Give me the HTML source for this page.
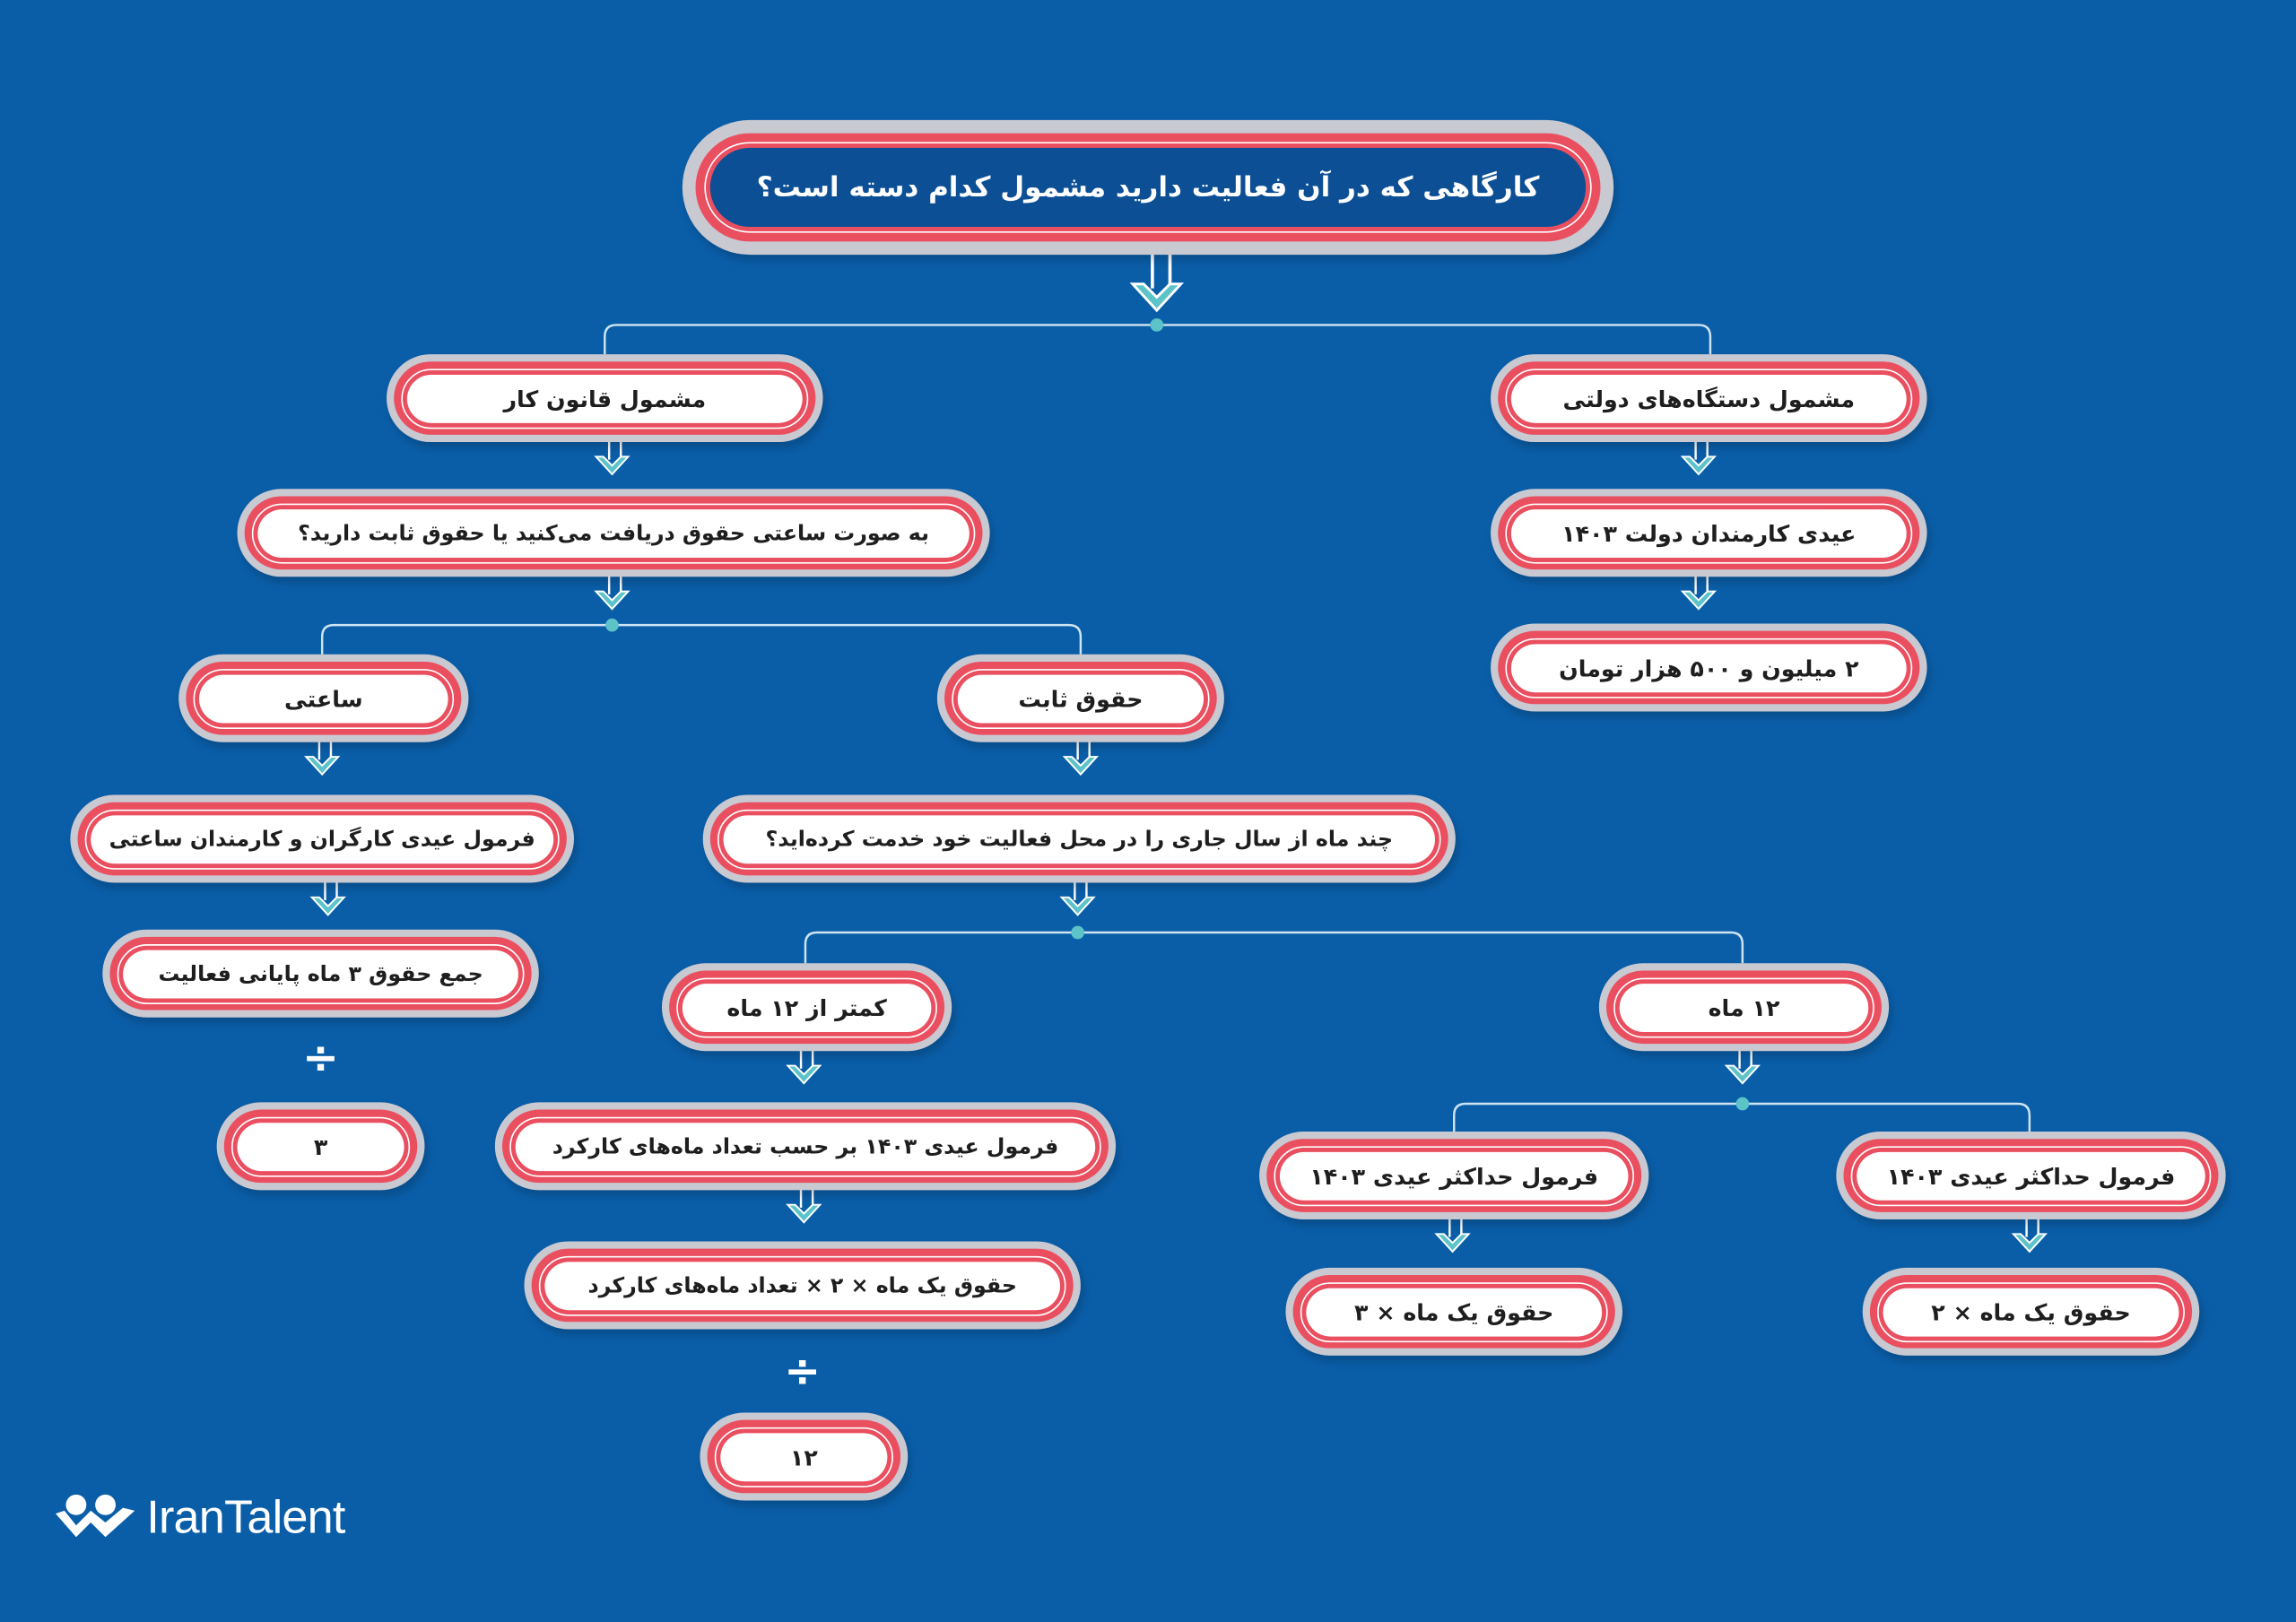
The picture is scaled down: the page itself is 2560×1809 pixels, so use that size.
<!DOCTYPE html>
<html><head><meta charset="utf-8">
<style>
html,body{margin:0;padding:0;background:#0a5ea8;}
body{width:2560px;height:1809px;overflow:hidden;position:relative;}
#w{position:absolute;left:0;top:0;width:1568px;height:1108px;transform:scale(1.63265);transform-origin:0 0;background:#0a5ea8;}
.n{position:absolute;box-sizing:border-box;border-radius:999px;background:#c9c9d1;padding:5px;box-shadow:2px 4px 6px rgba(0,0,0,0.18);}
.r{width:100%;height:100%;box-sizing:border-box;border-radius:999px;background:#ea4f60;padding:5px 5px 4px 5px;}
.l{width:100%;height:100%;box-sizing:border-box;border-radius:999px;border:1.5px solid #fff;padding:3px;}
.c{width:100%;height:100%;box-sizing:border-box;border-radius:999px;background:#fff;display:flex;align-items:center;justify-content:center;font-family:"DejaVu Sans","Noto Sans CJK SC",sans-serif;font-weight:bold;font-size:15.5px;color:#1e1e1e;direction:rtl;white-space:nowrap;}
.s .c{font-size:14.5px;letter-spacing:-0.4px;}
.top .c{background:#0c4f95;color:#fff;font-size:19px;}
svg{position:absolute;left:0;top:0;}
.dv{position:absolute;color:#fff;font-family:"DejaVu Sans",sans-serif;font-size:30px;font-weight:bold;transform:translate(-50%,-50%);}
.logo{position:absolute;left:100px;top:1018px;color:#fff;font-family:"Liberation Sans",sans-serif;font-size:32px;letter-spacing:-0.5px;}
</style></head><body><div id="w">
<svg width="1568" height="1108" viewBox="0 0 1568 1108">
<g fill="none" stroke="#cfe4f2" stroke-width="1.5">
<path d="M413 242 V230 Q413 222 421 222 H1160 Q1168 222 1168 230 V242"/>
<path d="M220 447 V435 Q220 427 228 427 H730 Q738 427 738 435 V447"/>
<path d="M550 658 V645 Q550 637 558 637 H1182 Q1190 637 1190 645 V658"/>
<path d="M993 773 V762 Q993 754 1001 754 H1378 Q1386 754 1386 762 V773"/>
</g>
<g fill="#5cc3c9"><circle cx="790" cy="222" r="4.5"/><circle cx="418" cy="427" r="4.5"/><circle cx="736" cy="637" r="4.5"/><circle cx="1190" cy="754" r="4.5"/></g>
<defs>
<g id="a">
<path d="M-2 -14 H6 V6" fill="none" stroke="#fff" stroke-width="1.5"/>
<path d="M-2 -14 V6" fill="none" stroke="#fff" stroke-width="1.5"/>
<path d="M-11 4 L0 16 L11 4 L6 4 L0 10 L-6 4 Z" fill="#5cc3c9" stroke="#fff" stroke-width="1.2"/>
</g>
</defs>
<g transform="translate(790,188) scale(1.5)"><use href="#a"/></g>
<use href="#a" x="1160" y="308"/><use href="#a" x="1160" y="400"/>
<use href="#a" x="418" y="308"/><use href="#a" x="418" y="400"/>
<use href="#a" x="220" y="513"/><use href="#a" x="738" y="513"/>
<use href="#a" x="224" y="609"/><use href="#a" x="736" y="609"/>
<use href="#a" x="549" y="724"/><use href="#a" x="1190" y="724"/>
<use href="#a" x="549" y="819"/><use href="#a" x="992" y="839"/><use href="#a" x="1386" y="839"/>
<g fill="#fff">
<circle cx="52" cy="1028" r="7"/><circle cx="72" cy="1028" r="7"/>
<path d="M38 1034 L52 1050 L62 1040 L72 1050 L92 1032 L84 1030 L72 1040 L62 1032 L52 1042 L44 1032 Z"/>
</g>
</svg>
<div class="n top" style="left:466px;top:82px;width:636px;height:92px;padding:9px"><div class="r" style="padding:6px"><div class="l"><div class="c">کارگاهی که در آن فعالیت دارید مشمول کدام دسته است؟</div></div></div></div>
<div class="n" style="left:1018px;top:242px;width:298px;height:60px"><div class="r"><div class="l"><div class="c">مشمول دستگاه‌های دولتی</div></div></div></div>
<div class="n" style="left:1018px;top:334px;width:298px;height:60px"><div class="r"><div class="l"><div class="c">عیدی کارمندان دولت ۱۴۰۳</div></div></div></div>
<div class="n" style="left:1018px;top:426px;width:298px;height:60px"><div class="r"><div class="l"><div class="c">۲ میلیون و ۵۰۰ هزار تومان</div></div></div></div>
<div class="n" style="left:264px;top:242px;width:298px;height:60px"><div class="r"><div class="l"><div class="c">مشمول قانون کار</div></div></div></div>
<div class="n s" style="left:162px;top:334px;width:514px;height:60px"><div class="r"><div class="l"><div class="c">به صورت ساعتی حقوق دریافت می‌کنید یا حقوق ثابت دارید؟</div></div></div></div>
<div class="n" style="left:122px;top:447px;width:198px;height:60px"><div class="r"><div class="l"><div class="c">ساعتی</div></div></div></div>
<div class="n" style="left:640px;top:447px;width:196px;height:60px"><div class="r"><div class="l"><div class="c">حقوق ثابت</div></div></div></div>
<div class="n s" style="left:48px;top:543px;width:344px;height:60px"><div class="r"><div class="l"><div class="c">فرمول عیدی کارگران و کارمندان ساعتی</div></div></div></div>
<div class="n s" style="left:70px;top:635px;width:298px;height:60px"><div class="r"><div class="l"><div class="c">جمع حقوق ۳ ماه پایانی فعالیت</div></div></div></div>
<div class="dv" style="left:219px;top:723px">÷</div>
<div class="n" style="left:148px;top:753px;width:142px;height:60px"><div class="r"><div class="l"><div class="c">۳</div></div></div></div>
<div class="n s" style="left:480px;top:543px;width:514px;height:60px"><div class="r"><div class="l"><div class="c">چند ماه از سال جاری را در محل فعالیت خود خدمت کرده‌اید؟</div></div></div></div>
<div class="n" style="left:452px;top:658px;width:198px;height:60px"><div class="r"><div class="l"><div class="c">کمتر از ۱۲ ماه</div></div></div></div>
<div class="n" style="left:1092px;top:658px;width:198px;height:60px"><div class="r"><div class="l"><div class="c">۱۲ ماه</div></div></div></div>
<div class="n s" style="left:338px;top:753px;width:424px;height:60px"><div class="r"><div class="l"><div class="c">فرمول عیدی ۱۴۰۳ بر حسب تعداد ماه‌های کارکرد</div></div></div></div>
<div class="n s" style="left:358px;top:848px;width:380px;height:60px"><div class="r"><div class="l"><div class="c">حقوق یک ماه × ۲ × تعداد ماه‌های کارکرد</div></div></div></div>
<div class="dv" style="left:548px;top:937px">÷</div>
<div class="n" style="left:478px;top:965px;width:142px;height:60px"><div class="r"><div class="l"><div class="c">۱۲</div></div></div></div>
<div class="n" style="left:860px;top:773px;width:266px;height:60px"><div class="r"><div class="l"><div class="c">فرمول حداکثر عیدی ۱۴۰۳</div></div></div></div>
<div class="n" style="left:878px;top:866px;width:230px;height:60px"><div class="r"><div class="l"><div class="c">حقوق یک ماه × ۳</div></div></div></div>
<div class="n" style="left:1254px;top:773px;width:266px;height:60px"><div class="r"><div class="l"><div class="c">فرمول حداکثر عیدی ۱۴۰۳</div></div></div></div>
<div class="n" style="left:1272px;top:866px;width:230px;height:60px"><div class="r"><div class="l"><div class="c">حقوق یک ماه × ۲</div></div></div></div>
<div class="logo">IranTalent</div>
</div></body></html>
